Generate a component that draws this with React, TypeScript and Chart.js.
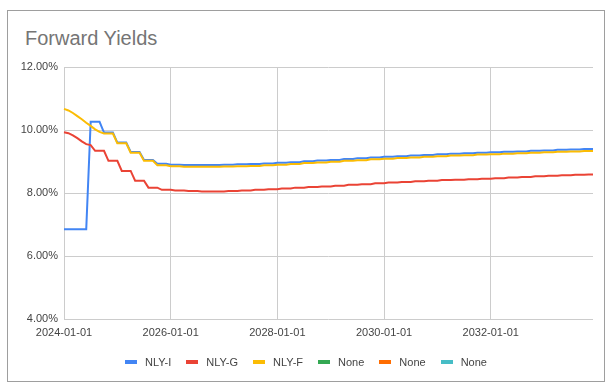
import React, { useEffect, useRef } from "react";
import { Chart, registerables } from "chart.js";

Chart.register(...registerables);

const TITLE = "Forward Yields";
const FONT = "'Liberation Sans', Arial, sans-serif";

const YEARS = [2024, 2025, 2026, 2027, 2028, 2029, 2030, 2031, 2032, 2033];
const MONTHS = ["01", "02", "03", "04", "05", "06", "07", "08", "09", "10", "11", "12"];
const CATEGORIES = YEARS.flatMap((y) => MONTHS.map((m) => `${y}-${m}-01`));
const X_TICK_LABELS = ["2024-01-01", "2026-01-01", "2028-01-01", "2030-01-01", "2032-01-01"];

const Y_MIN = 4;
const Y_MAX = 12;
const Y_STEP = 2;

const SERIES_NAMES = ["NLY-I", "NLY-G", "NLY-F", "None", "None", "None"];
const SERIES_COLORS = ["#4285f4", "#ea4335", "#fbbc04", "#34a853", "#ff6d01", "#46bdc6"];

const NLY_I = [
  6.85, 6.85, 6.85, 6.85, 6.85, 6.85, 10.26, 10.26, 10.26, 9.92, 9.92, 9.92,
  9.6, 9.6, 9.6, 9.3, 9.3, 9.3, 9.05, 9.05, 9.05, 8.93, 8.93, 8.93,
  8.9, 8.9, 8.9, 8.89, 8.89, 8.89, 8.89, 8.89, 8.89, 8.89, 8.89, 8.89,
  8.9, 8.9, 8.9, 8.91, 8.91, 8.91, 8.92, 8.92, 8.92, 8.94, 8.94, 8.94,
  8.96, 8.96, 8.96, 8.98, 8.98, 8.98, 9.01, 9.01, 9.01, 9.03, 9.03, 9.03,
  9.05, 9.05, 9.05, 9.08, 9.08, 9.08, 9.1, 9.1, 9.1, 9.13, 9.13, 9.13,
  9.15, 9.15, 9.15, 9.17, 9.17, 9.17, 9.19, 9.19, 9.19, 9.21, 9.21, 9.21,
  9.23, 9.23, 9.23, 9.25, 9.25, 9.25, 9.26, 9.26, 9.26, 9.28, 9.28, 9.28,
  9.29, 9.29, 9.29, 9.31, 9.31, 9.31, 9.32, 9.32, 9.32, 9.34, 9.34, 9.34,
  9.35, 9.35, 9.35, 9.37, 9.37, 9.37, 9.38, 9.38, 9.38, 9.4, 9.4, 9.4,
];

const NLY_G = [
  9.93, 9.9, 9.83, 9.74, 9.64, 9.55, 9.52, 9.34, 9.34, 9.34, 9.02, 9.02,
  9.02, 8.7, 8.7, 8.7, 8.39, 8.39, 8.39, 8.17, 8.17, 8.17, 8.1, 8.1,
  8.1, 8.08, 8.08, 8.08, 8.06, 8.06, 8.06, 8.05, 8.05, 8.05, 8.05, 8.05,
  8.05, 8.06, 8.06, 8.06, 8.08, 8.08, 8.08, 8.1, 8.1, 8.1, 8.12, 8.12,
  8.12, 8.14, 8.14, 8.14, 8.17, 8.17, 8.17, 8.19, 8.19, 8.19, 8.21, 8.21,
  8.21, 8.23, 8.23, 8.23, 8.26, 8.26, 8.26, 8.28, 8.28, 8.28, 8.31, 8.31,
  8.31, 8.33, 8.33, 8.33, 8.35, 8.35, 8.35, 8.37, 8.37, 8.37, 8.39, 8.39,
  8.39, 8.41, 8.41, 8.41, 8.42, 8.42, 8.42, 8.44, 8.44, 8.44, 8.45, 8.45,
  8.45, 8.47, 8.47, 8.47, 8.49, 8.49, 8.49, 8.51, 8.51, 8.51, 8.53, 8.53,
  8.53, 8.55, 8.55, 8.55, 8.56, 8.56, 8.56, 8.58, 8.58, 8.58, 8.59, 8.59,
];

const NLY_F = [
  10.67, 10.62, 10.54, 10.44, 10.34, 10.23, 10.13, 10.02, 9.94, 9.89, 9.89, 9.89,
  9.58, 9.58, 9.58, 9.28, 9.28, 9.28, 9.02, 9.02, 9.02, 8.88, 8.88, 8.88,
  8.85, 8.85, 8.85, 8.83, 8.83, 8.83, 8.83, 8.83, 8.83, 8.83, 8.83, 8.83,
  8.84, 8.84, 8.84, 8.85, 8.85, 8.85, 8.86, 8.86, 8.86, 8.88, 8.88, 8.88,
  8.9, 8.9, 8.9, 8.92, 8.92, 8.92, 8.95, 8.95, 8.95, 8.97, 8.97, 8.97,
  8.99, 8.99, 8.99, 9.02, 9.02, 9.02, 9.04, 9.04, 9.04, 9.07, 9.07, 9.07,
  9.09, 9.09, 9.09, 9.11, 9.11, 9.11, 9.13, 9.13, 9.13, 9.15, 9.15, 9.15,
  9.17, 9.17, 9.17, 9.19, 9.19, 9.19, 9.2, 9.2, 9.2, 9.22, 9.22, 9.22,
  9.23, 9.23, 9.23, 9.25, 9.25, 9.25, 9.26, 9.26, 9.26, 9.28, 9.28, 9.28,
  9.29, 9.29, 9.29, 9.31, 9.31, 9.31, 9.32, 9.32, 9.32, 9.33, 9.33, 9.33,
];

const NONE_1: number[] = [];
const NONE_2: number[] = [];
const NONE_3: number[] = [];

const SERIES_DATA = [NLY_I, NLY_G, NLY_F, NONE_1, NONE_2, NONE_3];
const SERIES_ORDER = [3, 2, 1, 4, 5, 6];

export default function App() {
  const canvasRef = useRef<HTMLCanvasElement>(null);

  useEffect(() => {
    const canvas = canvasRef.current;
    if (!canvas) return;
    const chart = new Chart(canvas, {
      type: "line",
      data: {
        labels: CATEGORIES,
        datasets: SERIES_NAMES.map((name, i) => ({
          label: name,
          data: SERIES_DATA[i],
          borderColor: SERIES_COLORS[i],
          backgroundColor: SERIES_COLORS[i],
          borderWidth: 2,
          pointRadius: 0,
          pointHoverRadius: 0,
          tension: 0,
          fill: false,
          order: SERIES_ORDER[i],
        })),
      },
      options: {
        animation: false,
        responsive: false,
        maintainAspectRatio: false,
        layout: { padding: { left: 10, right: 18, top: 67, bottom: 41 } },
        plugins: {
          legend: { display: false },
          title: { display: false },
          tooltip: { enabled: false },
        },
        scales: {
          x: {
            type: "category",
            offset: false,
            border: { display: false },
            grid: {
              drawTicks: false,
              lineWidth: 1,
              color: (ctx: any) =>
                X_TICK_LABELS.includes(CATEGORIES[ctx.index]) ? "#cccccc" : "rgba(0,0,0,0)",
            },
            ticks: {
              autoSkip: false,
              maxRotation: 0,
              minRotation: 0,
              padding: 7,
              color: "#444444",
              font: { family: FONT, size: 11 },
              callback: (_v: any, i: number) =>
                X_TICK_LABELS.includes(CATEGORIES[i]) ? CATEGORIES[i] : "",
            },
            afterFit: (s: any) => {
              s.height = 30;
            },
          },
          y: {
            min: Y_MIN,
            max: Y_MAX,
            border: { display: false },
            grid: { drawTicks: false, color: "#cccccc", lineWidth: 1 },
            ticks: {
              stepSize: Y_STEP,
              padding: 6,
              color: "#444444",
              font: { family: FONT, size: 11 },
              callback: (v: any) => Number(v).toFixed(2) + "%",
            },
            afterFit: (s: any) => {
              s.width = 54;
            },
          },
        },
      },
    });
    return () => chart.destroy();
  }, []);

  return (
    <div
      style={{
        position: "fixed",
        left: 0,
        top: 0,
        width: 611,
        height: 390,
        background: "#ffffff",
        fontFamily: FONT,
      }}
    >
      <div
        style={{
          position: "absolute",
          left: 7,
          top: 10,
          width: 598,
          height: 372,
          boxSizing: "border-box",
          border: "1px solid #9e9e9e",
        }}
      />
      <div
        style={{
          position: "absolute",
          left: 25,
          top: 28,
          fontSize: 20,
          lineHeight: "20px",
          color: "#757575",
          whiteSpace: "nowrap",
        }}
      >
        {TITLE}
      </div>
      <canvas
        ref={canvasRef}
        width={611}
        height={390}
        style={{ position: "absolute", left: 0, top: 0, display: "block" }}
      />
      <div
        style={{
          position: "absolute",
          left: 125,
          top: 355,
          height: 14,
          display: "flex",
          alignItems: "center",
          gap: 15,
          fontSize: 11,
          lineHeight: "14px",
          color: "#444444",
          whiteSpace: "nowrap",
        }}
      >
        {SERIES_NAMES.map((name, i) => (
          <div key={i} style={{ display: "flex", alignItems: "center" }}>
            <span
              style={{
                display: "inline-block",
                width: 12,
                height: 4,
                background: SERIES_COLORS[i],
                marginRight: 8,
              }}
            />
            <span>{name}</span>
          </div>
        ))}
      </div>
    </div>
  );
}
